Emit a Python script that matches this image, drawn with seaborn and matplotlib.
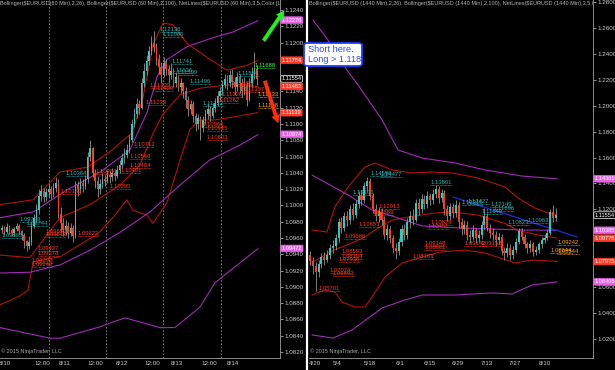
import numpy as np
import matplotlib
matplotlib.use("Agg")
import matplotlib.pyplot as plt
import seaborn as sns

sns.set_style("dark", {"axes.facecolor": "black", "figure.facecolor": "black"})
plt.rcParams['font.family'] = ['Liberation Sans', 'DejaVu Sans']

# ------------------------------------------------------------------ data
# Left panel: EURUSD 60 min candles (open of bar 0, then closes/highs/lows)
left_open0 = 1.0970
left_close = [1.0972, 1.0968, 1.0974, 1.0970, 1.0966, 1.0971, 1.0975, 1.0969, 1.0964,
              1.0956, 1.0950, 1.0955, 1.0975, 1.0985, 1.0995, 1.1012, 1.1018,
              1.1010, 1.1016, 1.1020, 1.1014, 1.1022, 1.1027, 1.0990, 1.0978,
              1.0970, 1.0975, 1.0966, 1.0972, 1.0962, 1.1025,
              1.1020, 1.1028, 1.1024, 1.1032, 1.1060, 1.1070,
              1.1040, 1.1030, 1.1020, 1.1026,
              1.1033, 1.1030, 1.1038, 1.1035, 1.1040, 1.1036, 1.1044,
              1.1050, 1.1058, 1.1062, 1.1068,
              1.1080, 1.1100, 1.1112, 1.1125, 1.1120,
              1.1150, 1.1165, 1.1178, 1.1190, 1.1200, 1.1195, 1.1180,
              1.1170, 1.1160, 1.1175, 1.1168, 1.1160,
              1.1165, 1.1150, 1.1158, 1.1145, 1.1150, 1.1140,
              1.1130, 1.1118, 1.1125, 1.1110,
              1.1100, 1.1108, 1.1095, 1.1105,
              1.1112, 1.1118, 1.1110, 1.1120, 1.1126,
              1.1135, 1.1140, 1.1148, 1.1155, 1.1150, 1.1160,
              1.1152, 1.1145, 1.1158, 1.1150, 1.1140, 1.1148,
              1.1130, 1.1150, 1.1162, 1.1168, 1.1155]
left_high = [1.0976, 1.0975, 1.0978, 1.0976, 1.0972, 1.0974, 1.0979, 1.0977, 1.0970,
             1.0966, 1.0958, 1.0962, 1.0980, 1.0990, 1.1002, 1.1020, 1.1025,
             1.1022, 1.1021, 1.1026, 1.1024, 1.1028, 1.1035, 1.1032, 1.0998,
             1.0985, 1.0982, 1.0980, 1.0978, 1.0976, 1.1030,
             1.1030, 1.1034, 1.1032, 1.1038, 1.1066, 1.1080,
             1.1072, 1.1045, 1.1036, 1.1032,
             1.1040, 1.1038, 1.1044, 1.1042, 1.1046, 1.1044, 1.1050,
             1.1056, 1.1064, 1.1070, 1.1076,
             1.1086, 1.1106, 1.1120, 1.1132, 1.1130,
             1.1156, 1.1175, 1.1185, 1.1196, 1.1208, 1.1214, 1.1200,
             1.1186, 1.1176, 1.1182, 1.1180, 1.1172,
             1.1175, 1.1168, 1.1164, 1.1160, 1.1156, 1.1152,
             1.1145, 1.1134, 1.1130, 1.1128,
             1.1114, 1.1112, 1.1110, 1.1110,
             1.1118, 1.1124, 1.1122, 1.1126, 1.1132,
             1.1140, 1.1146, 1.1154, 1.1162, 1.1160, 1.1166,
             1.1168, 1.1158, 1.1164, 1.1162, 1.1156, 1.1158,
             1.1152, 1.1156, 1.1170, 1.1188, 1.1172]
left_low = [1.0966, 1.0964, 1.0966, 1.0965, 1.0962, 1.0963, 1.0969, 1.0965, 1.0958,
            1.0948, 1.0944, 1.0946, 1.0952, 1.0972, 1.0980, 1.0990, 1.1005,
            1.1004, 1.1006, 1.1010, 1.1008, 1.1010, 1.1016, 1.0984, 1.0968,
            1.0962, 1.0964, 1.0960, 1.0962, 1.0955, 1.0960,
            1.1012, 1.1015, 1.1016, 1.1020, 1.1028, 1.1055,
            1.1035, 1.1022, 1.1010, 1.1014,
            1.1022, 1.1024, 1.1028, 1.1027, 1.1030, 1.1030, 1.1034,
            1.1040, 1.1046, 1.1052, 1.1058,
            1.1064, 1.1078, 1.1096, 1.1108, 1.1112,
            1.1118, 1.1145, 1.1160, 1.1172, 1.1185, 1.1188, 1.1172,
            1.1162, 1.1150, 1.1158, 1.1160, 1.1150,
            1.1155, 1.1146, 1.1145, 1.1140, 1.1138, 1.1132,
            1.1120, 1.1110, 1.1112, 1.1102,
            1.1092, 1.1094, 1.1080, 1.1090,
            1.1100, 1.1106, 1.1104, 1.1108, 1.1115,
            1.1122, 1.1130, 1.1136, 1.1144, 1.1142, 1.1146,
            1.1144, 1.1136, 1.1140, 1.1138, 1.1132, 1.1136,
            1.1122, 1.1128, 1.1145, 1.1155, 1.1148]

# Left Bollinger(2,26) (dark red) and Bollinger(2,100) (magenta), sampled along bar index
L_bb26_up_x = [-0.8, 12.7, 23.7, 34.7, 44.1, 53.1, 57.6, 61.6, 65.7, 69.8, 75.5, 83.7, 91.8, 100, 104.5]
L_bb26_up = [1.1001, 1.1007, 1.1041, 1.1047, 1.1066, 1.1089, 1.1133, 1.1197, 1.1224, 1.1222,
             1.1199, 1.1182, 1.1166, 1.1172, 1.1178]
L_bb26_mid_x = [-0.8, 11.4, 23.7, 35.9, 48.2, 56.3, 61.6, 65.7, 72.7, 80.8, 89, 97.1, 104.5]
L_bb26_mid = [1.0939, 1.0936, 1.0985, 1.1001, 1.1025, 1.1050, 1.1088, 1.1112, 1.1136, 1.1144,
              1.1147, 1.1149, 1.1146]
L_bb26_lo_x = [-0.8, 7.3, 10.6, 12.7, 23.7, 35.1, 38.8, 46.1, 51, 53.5, 59.2, 61.6, 67.3, 72.7,
               76.7, 80.8, 86.9, 95.1, 104.5]
L_bb26_lo = [1.0878, 1.0889, 1.0896, 1.0931, 1.0937, 1.0958, 1.0964, 1.0988, 1.1007, 1.0994,
             1.0988, 1.0978, 1.1003, 1.1056, 1.1093, 1.1105, 1.1105, 1.1109, 1.1114]
L_bb100_up_x = [-0.8, 12.7, 26.5, 40, 52.2, 59.2, 63.3, 67.3, 75.5, 86.1, 94.3, 104.5]
L_bb100_up = [1.0985, 1.0992, 1.1019, 1.1041, 1.1068, 1.1114, 1.1158, 1.1179, 1.1195, 1.1206,
              1.1213, 1.1227]
L_bb100_mid_x = [-0.8, 11.4, 23.7, 35.9, 48.2, 60.4, 72.7, 84.9, 97.1, 104.5]
L_bb100_mid = [1.0917, 1.0918, 1.0927, 1.0945, 1.0967, 1.0992, 1.1025, 1.1056, 1.1074, 1.1087]
L_bb100_lo_x = [-0.8, 19.6, 23.7, 40, 50.2, 64.5, 70.6, 80.8, 86.9, 104.5]
L_bb100_lo = [1.0850, 1.0837, 1.0837, 1.0851, 1.0862, 1.0850, 1.0850, 1.0875, 1.0905, 1.0947]

L_xtick_pos = [1.2, 16.3, 25.7, 38.0, 49.0, 61.2, 71.4, 84.5, 94.3]
L_xtick_lab = ["8/10", "12:00", "8/11", "12:00", "8/12", "12:00", "8/13", "12:00", "8/14"]
L_sessions = [19.2, 42.4, 65.7, 89.4]
L_yticks = [1.0820, 1.0840, 1.0860, 1.0880, 1.0900, 1.0920, 1.0940, 1.0960, 1.0980, 1.1000,
            1.1020, 1.1040, 1.1060, 1.1080, 1.1100, 1.1120, 1.1140, 1.1200, 1.1220, 1.1240]

# NetLines labels (value, bar index, kind)
L_net_val = [1.12136, 1.12066, 1.11741, 1.11626, 1.11599, 1.11496, 1.11222, 1.11584, 1.09799,
             1.09744, 1.09605, 1.10364,
             1.11439, 1.11409, 1.11233, 1.11468, 1.11326, 1.11262, 1.11397, 1.10966, 1.10915,
             1.10803, 1.10713, 1.10566, 1.10464, 1.10401, 1.10384, 1.10205, 1.10143, 1.09653,
             1.09613, 1.09622, 1.09437, 1.09378, 1.09293, 1.09242,
             1.11333, 1.11198, 1.11688]
L_net_idx = [64.5, 65.7, 69.4, 69.4, 71.4, 76.7, 82.0, 96.3, 7.3, 10.2, 0.0, 26.1,
             60.4, 61.6, 58.8, 93.9, 89.8, 88.2, 98.8, 82.0, 83.7, 83.7, 53.5, 52.2, 52.2,
             48.2, 38.0, 44.1, 23.7, 17.6, 17.6, 31.0, 14.7, 14.7, 12.2, 12.2,
             104.5, 104.5, 102.9]
L_net_kind = ["c"] * 12 + ["r"] * 24 + ["o", "o", "g"]

L_mark_val = [1.12276, 1.11784, 1.11554, 1.11462, 1.11139, 1.10874, 1.09472]
L_mark_kind = ["m", "r", "k", "r", "r", "m", "m"]

# Right panel: EURUSD daily candles
right_open0 = 1.0850
right_close = [1.0800, 1.0760, 1.0720, 1.0780, 1.0830, 1.0810, 1.0850, 1.0900, 1.0920, 1.0980,
               1.1100, 1.1060, 1.1150, 1.1120, 1.1200, 1.1160, 1.1240, 1.1300, 1.1270, 1.1380,
               1.1420, 1.1300, 1.1200, 1.1150, 1.1180, 1.1120, 1.1000, 1.1050, 1.0980, 1.0900,
               1.0880, 1.0950, 1.1050, 1.1000, 1.1100, 1.1150, 1.1120, 1.1250, 1.1200, 1.1280,
               1.1240, 1.1300, 1.1270, 1.1320, 1.1360, 1.1290, 1.1330, 1.1200, 1.1150, 1.1220,
               1.1170, 1.1230, 1.1100, 1.1050, 1.1080, 1.1000, 1.0990, 1.1040, 1.0980, 1.1000,
               1.1080, 1.1150, 1.1060, 1.1020, 1.1000, 1.0960, 1.0990, 1.0880, 1.0860, 1.0900,
               1.0850, 1.0890, 1.0950, 1.1030, 1.0990, 1.0930, 1.0900, 1.0930, 1.0870, 1.0890,
               1.0930, 1.0960, 1.0980, 1.1020, 1.1180, 1.1130, 1.1155]
right_high = [1.0880, 1.0830, 1.0790, 1.0810, 1.0860, 1.0870, 1.0890, 1.0930, 1.0960, 1.1010,
              1.1130, 1.1140, 1.1180, 1.1190, 1.1230, 1.1250, 1.1270, 1.1340, 1.1350, 1.1410,
              1.1450, 1.1440, 1.1330, 1.1240, 1.1220, 1.1210, 1.1150, 1.1090, 1.1070, 1.1000,
              1.0940, 1.0980, 1.1080, 1.1090, 1.1130, 1.1190, 1.1200, 1.1280, 1.1290, 1.1320,
              1.1310, 1.1340, 1.1330, 1.1360, 1.1390, 1.1380, 1.1360, 1.1350, 1.1230, 1.1250,
              1.1250, 1.1270, 1.1260, 1.1130, 1.1120, 1.1110, 1.1040, 1.1080, 1.1060, 1.1040,
              1.1110, 1.1210, 1.1170, 1.1090, 1.1060, 1.1030, 1.1020, 1.1010, 1.0910, 1.0940,
              1.0930, 1.0920, 1.0980, 1.1060, 1.1060, 1.1010, 1.0950, 1.0960, 1.0950, 1.0920,
              1.0950, 1.0990, 1.1010, 1.1050, 1.1200, 1.1230, 1.1210]
right_low = [1.0770, 1.0700, 1.0570, 1.0680, 1.0750, 1.0770, 1.0790, 1.0820, 1.0860, 1.0890,
             1.0950, 1.1020, 1.1030, 1.1070, 1.1090, 1.1120, 1.1130, 1.1210, 1.1230, 1.1250,
             1.1340, 1.1270, 1.1170, 1.1110, 1.1100, 1.1080, 1.0970, 1.0960, 1.0940, 1.0860,
             1.0820, 1.0850, 1.0920, 1.0960, 1.0970, 1.1060, 1.1080, 1.1100, 1.1160, 1.1170,
             1.1200, 1.1210, 1.1230, 1.1240, 1.1290, 1.1250, 1.1260, 1.1160, 1.1110, 1.1120,
             1.1130, 1.1140, 1.1060, 1.1000, 1.1010, 1.0960, 1.0940, 1.0960, 1.0940, 1.0950,
             1.0970, 1.1050, 1.1030, 1.0980, 1.0960, 1.0920, 1.0930, 1.0850, 1.0810, 1.0830,
             1.0810, 1.0820, 1.0860, 1.0930, 1.0960, 1.0900, 1.0860, 1.0870, 1.0840, 1.0850,
             1.0860, 1.0900, 1.0940, 1.0960, 1.1000, 1.1100, 1.1110]

R_bb26_up_x = [0.7, 5.9, 8.7, 13.3, 19.2, 22.7, 28.7, 35.7, 42.7, 49.7, 58.7, 68.2, 72.7, 78.7, 83.2, 86.4]
R_bb26_up = [1.1041, 1.1025, 1.1218, 1.1373, 1.1527, 1.1558, 1.1504, 1.1481, 1.1488, 1.1481,
             1.1442, 1.1373, 1.1288, 1.1210, 1.1172, 1.1158]
R_bb26_mid_x = [0.7, 8.7, 13.3, 19.2, 22.7, 28.7, 35.7, 42.7, 49.7, 58.7, 68.2, 72.7, 78.7, 86.4]
R_bb26_mid = [1.0790, 1.0890, 1.0927, 1.0987, 1.1041, 1.1117, 1.1145, 1.1169, 1.1180, 1.1156,
              1.1091, 1.1039, 1.1007, 1.0978]
R_bb26_lo_x = [0.7, 5.2, 8.7, 11.2, 15.7, 19.2, 21.7, 26.2, 32.2, 39.2, 45.5, 54.2, 61.2, 66.4,
               71.7, 77.6, 86.4]
R_bb26_lo = [1.0539, 1.0578, 1.0562, 1.0485, 1.0447, 1.0447, 1.0524, 1.0678, 1.0786, 1.0832,
             1.0871, 1.0886, 1.0863, 1.0825, 1.0786, 1.0809, 1.0798]
R_bb100_up_x = [1.0, 6.3, 12.9, 16.8, 25.2, 30.8, 39.2, 50.7, 61.2, 74.1, 86.4]
R_bb100_up = [1.2661, 1.2507, 1.2275, 1.2160, 1.1890, 1.1658, 1.1596, 1.1558, 1.1504, 1.1457, 1.1436]
R_bb100_mid_x = [0.7, 13.3, 21.7, 25.5, 35.0, 39.2, 52.4, 74.1, 86.4]
R_bb100_mid = [1.1465, 1.1311, 1.1195, 1.1172, 1.1102, 1.1072, 1.1056, 1.1041, 1.1039]
R_bb100_lo_x = [0.7, 8.0, 14.7, 25.2, 33.2, 39.2, 50.7, 63.6, 70.6, 77.6, 86.4]
R_bb100_lo = [1.0231, 1.0207, 1.0269, 1.0439, 1.0501, 1.0539, 1.0539, 1.0555, 1.0547, 1.0616, 1.0641]
R_trend_x = [50.0, 93.4]
R_trend = [1.1295, 1.0987]

R_xtick_pos = [1.7, 9.4, 21.0, 31.5, 42.0, 51.7, 61.9, 71.7, 82.2]
R_xtick_lab = ["4/20", "5/4", "5/18", "6/1", "6/15", "6/29", "7/13", "7/27", "8/10"]
R_yticks = [1.02, 1.04, 1.06, 1.12, 1.14, 1.16, 1.18, 1.20, 1.22, 1.24, 1.26, 1.28]

R_net_val = [1.14596, 1.14477, 1.13861, 1.12427, 1.12316, 1.12149, 1.11896, 1.11640, 1.10963,
             1.10823, 1.13106,
             1.12013, 1.11583, 1.10653, 1.10829, 1.10451, 1.09686, 1.09148, 1.08881, 1.08593,
             1.08184, 1.07936, 1.08183, 1.07074, 1.06893, 1.05701, 1.09142, 1.09152,
             1.09242, 1.08644, 1.08544]
R_net_idx = [21.0, 24.5, 42.0, 55.0, 53.0, 63.0, 64.0, 60.0, 76.0, 69.0, 15.0,
             24.0, 22.0, 17.0, 42.0, 41.0, 12.0, 40.0, 40.0, 11.0, 11.0, 10.0, 36.0, 7.0, 8.0,
             3.0, 54.0, 59.5,
             86.5, 84.0, 86.5]
R_net_kind = ["c"] * 11 + ["r"] * 17 + ["o"] * 3

R_mark_val = [1.14361, 1.11554, 1.10385, 1.09776, 1.07975, 1.06408]
R_mark_kind = ["m", "k", "m", "r", "r", "m"]

# ------------------------------------------------------------------ style
UP = "#33c9c0"
DN = "#ff3d14"
WICK = "#a0a0a0"
BB26 = "#b3120c"
BB100 = "#a22ab8"
NET = {"c": "#2fb3b0", "r": "#ff3a1a", "o": "#ffa31a", "g": "#39ff39"}
MARK = {"m": ("#e663e6", "#e663e6", "white"), "r": ("#ff3b2a", "#ff3b2a", "white"),
        "k": ("black", "white", "white")}
TXT = "#c8c8c8"

W, H = 615, 370
fig = plt.figure(figsize=(W / 100, H / 100), dpi=100, facecolor="black")
axL = fig.add_axes([0 / W, 12 / H, 280 / W, 358 / H])
axR = fig.add_axes([309 / W, 12 / H, 284 / W, 358 / H])


def candles(ax, open0, close, high, low, width):
    close = np.asarray(close)
    opn = np.concatenate([[open0], close[:-1]])
    x = np.arange(len(close))
    ax.vlines(x, low, high, color=WICK, lw=0.55, zorder=3)
    bottom = np.minimum(opn, close)
    height = np.maximum(np.abs(close - opn), 0.00006)
    cols = [UP if c >= o else DN for o, c in zip(opn, close)]
    ax.bar(x, height, width, bottom=bottom, color=cols, edgecolor="none", zorder=4)


def band(ax, xs, ys, color, lw=0.8):
    sns.lineplot(x=xs, y=ys, ax=ax, color=color, lw=lw, estimator=None, sort=False, zorder=2)


def netlabels(ax, vals, idx, kinds, wid, fs=4.2):
    for v, i, k in zip(vals, idx, kinds):
        c = NET[k]
        ax.text(i, v, f"{v:.5f}", color=c, fontsize=fs, ha="left", va="bottom", zorder=6,
                clip_on=True)
        ax.plot([i, i + wid], [v, v], color=c, lw=0.6, ls=(0, (0.8, 0.8)), zorder=6)


def markers(ax, vals, kinds):
    for v, k in zip(vals, kinds):
        fc, ec, tc = MARK[k]
        ax.text(1.006, v, f"{v:.5f}", transform=ax.get_yaxis_transform(), ha="left",
                va="center", fontsize=4.1, color=tc, clip_on=False, zorder=20,
                bbox=dict(boxstyle="round,pad=0.15,rounding_size=0.2", fc=fc, ec=ec, lw=0.5))


def style_axis(ax, xlim, ylim, yticks, yfmt, xpos, xlab):
    ax.set_facecolor("black")
    ax.set_xlim(*xlim)
    ax.set_ylim(*ylim)
    ax.grid(False)
    for s in ["top", "left"]:
        ax.spines[s].set_visible(False)
    for s in ["right", "bottom"]:
        ax.spines[s].set_color("#8a8a8a")
        ax.spines[s].set_linewidth(0.7)
    ax.yaxis.tick_right()
    ax.set_yticks(yticks)
    ax.set_yticklabels([yfmt.format(t) for t in yticks])
    ax.set_xticks(xpos)
    ax.set_xticklabels(xlab)
    ax.tick_params(axis="both", colors=TXT, labelsize=4.5, length=2, width=0.5, pad=1,
                   direction="out")
    ax.tick_params(axis="x", pad=0.5)
    ax.set_xlabel("")
    ax.set_ylabel("")


# ---------------- left panel
candles(axL, left_open0, left_close, left_high, left_low, 0.62)
for xs, ys, col in [(L_bb26_up_x, L_bb26_up, BB26), (L_bb26_mid_x, L_bb26_mid, BB26),
                    (L_bb26_lo_x, L_bb26_lo, BB26), (L_bb100_up_x, L_bb100_up, BB100),
                    (L_bb100_mid_x, L_bb100_mid, BB100), (L_bb100_lo_x, L_bb100_lo, BB100)]:
    band(axL, xs, ys, col)
for s in L_sessions:
    axL.axvline(s, color="#8c8c8c", lw=0.6, ls=(0, (2, 2)), zorder=1)
netlabels(axL, L_net_val, L_net_idx, L_net_kind, 8.5)
style_axis(axL, (-0.82, 113.5), (1.12523 - 358 / 8143, 1.12523), L_yticks, "{:.4f}",
           L_xtick_pos, L_xtick_lab)
markers(axL, L_mark_val, L_mark_kind)
axL.text(0.0, 0.997, "Bollinger($EURUSD(60 Min),2,26), Bollinger($EURUSD (60 Min),2,100), "
         "NetLines($EURUSD (60 Min),3,5,Color [Lim", transform=axL.transAxes,
         fontsize=4.0, color="#b4b4b4", ha="left", va="top", clip_on=True, zorder=8)
axL.text(0.004, 0.012, "\u00a9 2015 NinjaTrader, LLC", transform=axL.transAxes,
         fontsize=4.0, color="#a8a8a8", ha="left", va="bottom", zorder=8)

# ---------------- right panel
candles(axR, right_open0, right_close, right_high, right_low, 0.72)
for xs, ys, col in [(R_bb26_up_x, R_bb26_up, BB26), (R_bb26_mid_x, R_bb26_mid, BB26),
                    (R_bb26_lo_x, R_bb26_lo, BB26), (R_bb100_up_x, R_bb100_up, BB100),
                    (R_bb100_mid_x, R_bb100_mid, BB100), (R_bb100_lo_x, R_bb100_lo, BB100)]:
    band(axR, xs, ys, col)
band(axR, R_trend_x, R_trend, "#1a2fd0", lw=0.9)
netlabels(axR, R_net_val, R_net_idx, R_net_kind, 7.5)
style_axis(axR, (-0.35, 98.95), (1.28 - 356 / 1296, 1.28 + 2 / 1296), R_yticks, "{:.4f}",
           R_xtick_pos, R_xtick_lab)
axR.set_xticks(np.arange(0, 87, 1), minor=True)
axR.tick_params(axis="x", which="minor", length=1.5, width=0.4, colors=TXT)
markers(axR, R_mark_val, R_mark_kind)
axR.text(0.0, 0.997, "Bollinger($EURUSD (1440 Min),2,26), Bollinger($EURUSD (1440 Min),2,100), "
         "NetLines($EURUSD (1440 Min),3,5,Colo", transform=axR.transAxes,
         fontsize=4.0, color="#b4b4b4", ha="left", va="top", clip_on=True, zorder=8)
axR.text(0.004, 0.012, "\u00a9 2015 NinjaTrader, LLC", transform=axR.transAxes,
         fontsize=4.0, color="#a8a8a8", ha="left", va="bottom", zorder=8)

# panel separator
fig.add_artist(plt.Line2D([307 / W, 307 / W], [0, 1], color="white", lw=1.6,
                          transform=fig.transFigure))

# annotations (figure pixel coords)
def fpx(x, y):
    return (x / W, 1 - y / H)

fig.add_artist(matplotlib.patches.FancyArrowPatch(
    fpx(262, 43), fpx(286, 8), transform=fig.transFigure,
    arrowstyle="simple,head_length=6,head_width=6.5,tail_width=2.8",
    color="#22ee22", lw=0, mutation_scale=1, zorder=30))
fig.add_artist(matplotlib.patches.FancyArrowPatch(
    fpx(264, 78), fpx(279, 126), transform=fig.transFigure,
    arrowstyle="simple,head_length=6,head_width=6.5,tail_width=2.8",
    color="#ff2d0a", lw=0, mutation_scale=1, zorder=30))

box = matplotlib.patches.FancyBboxPatch(fpx(304, 66), 58 / W, 23 / H, transform=fig.transFigure,
                                        boxstyle="round,pad=0,rounding_size=0.006",
                                        fc="white", ec="#1d3cff", lw=1.3, zorder=31)
fig.add_artist(box)
fig.text(308 / W, 1 - 54.5 / H, "Short here.\nLong > 1.118", color="#2a4ff0", fontsize=6.6,
         ha="left", va="center", linespacing=1.15, zorder=32,
         family=["Liberation Sans", "DejaVu Sans"])

fig.savefig("out.png", dpi=100, facecolor="black")
